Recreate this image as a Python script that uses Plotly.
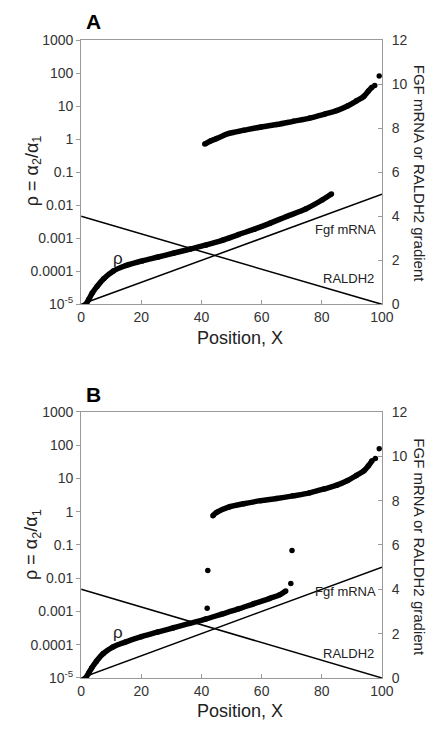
import plotly.graph_objects as go

W, H = 447, 730

# ---------------- data ----------------
x_ticks = [0, 20, 40, 60, 80, 100]
rho_tickvals = [1e-5, 1e-4, 1e-3, 1e-2, 1e-1, 1, 10, 100, 1000]
rho_ticktext = ["10<sup>-5</sup>", "0.0001", "0.001", "0.01", "0.1", "1", "10", "100", "1000"]
grad_ticks = [0, 2, 4, 6, 8, 10, 12]

# Panel A
A_low_x = [1.6, 2.5, 3.7, 5.3, 7.5, 10.7, 14.9, 20.3, 25.6, 30.9, 36.3, 41.6, 46.9, 52.3, 57.6, 62.9, 68.3, 74.8, 80.1, 83.2]
A_low_y = [1.0e-5, 1.4e-5, 2.2e-5, 3.5e-5, 6.0e-5, 1.02e-4, 1.5e-4, 2.07e-4, 2.72e-4, 3.59e-4, 4.75e-4, 6.3e-4, 8.7e-4, 1.3e-3, 1.9e-3, 2.9e-3, 4.6e-3, 7.9e-3, 1.45e-2, 2.2e-2]
A_up_x = [41.1, 43, 45, 49.1, 54, 59.8, 65, 70.5, 76, 81.2, 85, 88.7, 91.5, 94, 95.5, 96.7]
A_up_y = [0.72, 0.89, 1.05, 1.5, 1.87, 2.36, 2.8, 3.5, 4.4, 5.9, 7.4, 10.4, 14.5, 20, 29, 38]
A_dots_x = [97.6, 99.1]
A_dots_y = [43, 83]

# Panel B
B_low_x = [1.5, 2.5, 3.5, 5.1, 7.3, 10.5, 14.7, 20, 25.4, 30.7, 36, 41.4, 46.7, 52, 57.3, 62.6, 66, 68]
B_low_y = [1.0e-5, 1.4e-5, 2.0e-5, 3.2e-5, 5.4e-5, 8.5e-5, 1.2e-4, 1.74e-4, 2.4e-4, 3.24e-4, 4.37e-4, 5.9e-4, 8.3e-4, 1.17e-3, 1.7e-3, 2.45e-3, 3.16e-3, 4.1e-3]
B_up_x = [43.8, 45, 49, 54, 59.7, 65, 70.4, 76, 81, 85, 88.6, 91.5, 94, 95.5, 96.7]
B_up_y = [0.76, 0.95, 1.37, 1.73, 2.15, 2.5, 3.0, 3.7, 4.9, 6.3, 8.7, 12.3, 17, 24, 34]
B_dots_x = [41.9, 42.1, 69.7, 70.1, 97.8, 99.1]
B_dots_y = [1.26e-3, 1.7e-2, 6.9e-3, 0.068, 40, 78]

# gradients (right axis)
grad_x = [0, 100]
fgf_y = [0, 5]
raldh2_y = [4, 0]

# ---------------- figure ----------------
def px(x):
    return x / W

def py(y):
    return 1 - y / H

fig = go.Figure()

band = dict(mode="lines+markers", line=dict(color="black", width=5.5, shape="spline"),
            marker=dict(color="black", size=5.5), showlegend=False, hoverinfo="skip")
dots = dict(mode="markers", marker=dict(color="black", size=5.5), showlegend=False, hoverinfo="skip")
gline = dict(mode="lines", line=dict(color="black", width=1.5), showlegend=False, hoverinfo="skip")

# panel A
fig.add_trace(go.Scatter(x=A_low_x, y=A_low_y, xaxis="x", yaxis="y", **band))
fig.add_trace(go.Scatter(x=A_up_x, y=A_up_y, xaxis="x", yaxis="y", **band))
fig.add_trace(go.Scatter(x=A_dots_x, y=A_dots_y, xaxis="x", yaxis="y", **dots))
fig.add_trace(go.Scatter(x=grad_x, y=fgf_y, xaxis="x", yaxis="y2", **gline))
fig.add_trace(go.Scatter(x=grad_x, y=raldh2_y, xaxis="x", yaxis="y2", **gline))

# panel B
fig.add_trace(go.Scatter(x=B_low_x, y=B_low_y, xaxis="x2", yaxis="y3", **band))
fig.add_trace(go.Scatter(x=B_up_x, y=B_up_y, xaxis="x2", yaxis="y3", **band))
fig.add_trace(go.Scatter(x=B_dots_x, y=B_dots_y, xaxis="x2", yaxis="y3", **dots))
fig.add_trace(go.Scatter(x=grad_x, y=fgf_y, xaxis="x2", yaxis="y4", **gline))
fig.add_trace(go.Scatter(x=grad_x, y=raldh2_y, xaxis="x2", yaxis="y4", **gline))

axcol = "#9a9a9a"
tickfont = dict(family="Liberation Sans, Arial, sans-serif", size=14, color="#333")

xdom = [px(80), px(392)]
A_dom = [py(303), py(33)]
B_dom = [py(685), py(413)]

def xax(anchor):
    return dict(domain=xdom, anchor=anchor, range=[0, 100], tickvals=x_ticks,
                ticks="inside", ticklen=4, tickcolor=axcol, showline=True, linecolor=axcol,
                linewidth=1, mirror=True, showgrid=False, zeroline=False, tickfont=tickfont)

def ylog(dom, anchor):
    return dict(domain=dom, anchor=anchor, type="log", range=[-5, 3], tickvals=rho_tickvals,
                ticktext=rho_ticktext, ticks="outside", ticklen=4, tickcolor=axcol,
                showline=True, linecolor=axcol, linewidth=1, showgrid=False, zeroline=False,
                tickfont=tickfont)

def ylin(over, anchor):
    return dict(overlaying=over, anchor=anchor, side="right", range=[0, 12], tickvals=grad_ticks,
                ticks="inside", ticklen=4, tickcolor=axcol, showline=True, linecolor=axcol,
                linewidth=1, showgrid=False, zeroline=False, tickfont=tickfont,
                ticklabelstandoff=6)

fig.update_layout(
    width=W, height=H, margin=dict(l=0, r=0, t=0, b=0),
    paper_bgcolor="white", plot_bgcolor="white", showlegend=False,
    font=dict(family="Liberation Sans, Arial, sans-serif", color="#222"),
    xaxis=xax("y"), yaxis=ylog(A_dom, "x"), yaxis2=ylin("y", "x"),
    xaxis2=xax("y3"), yaxis3=ylog(B_dom, "x2"), yaxis4=ylin("y3", "x2"),
)

ann = []
def add(text, x, y, size, angle=0, bold=False, color="#222"):
    ann.append(dict(text=("<b>%s</b>" % text) if bold else text, x=px(x), y=py(y),
                    xref="paper", yref="paper", showarrow=False, xanchor="center",
                    yanchor="middle", textangle=angle,
                    font=dict(size=size, color=color, family="Liberation Sans, Arial, sans-serif")))

for (lab, top, off, fy, ry, ly) in [("A", 14, 0, 226, 277, 256), ("B", 395, 382, 597, 660, 638)]:
    add(lab, 93, top, 21, bold=True, color="black")
    add("Position, X", 245, 337 + off, 18)
    add("ρ = α<sub>2</sub>/α<sub>1</sub>", 30, 166 + off, 18, angle=-90)
    add("FGF mRNA or RALDH2 gradient", 431, 169 + off, 15, angle=90)
    add("Fgf mRNA", 354, fy, 13)
    add("RALDH2", 357, ry, 13)
    add("ρ", 118, ly, 17)

fig.update_layout(annotations=ann)
fig.write_html("out.html")
